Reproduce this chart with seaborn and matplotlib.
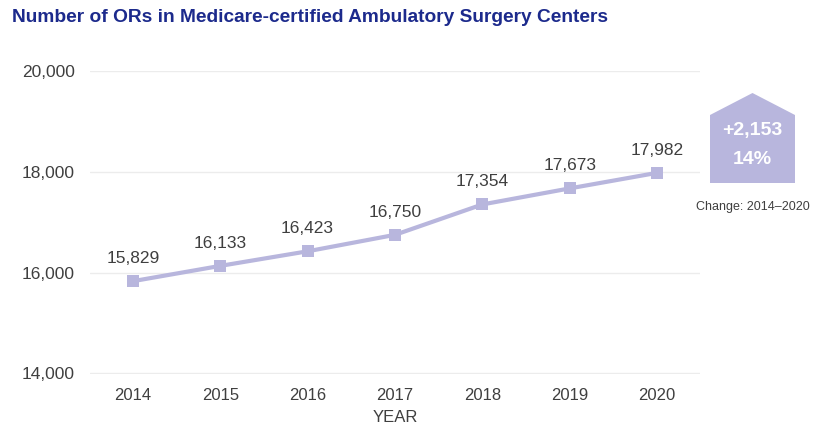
import matplotlib
matplotlib.use("Agg")
import matplotlib.pyplot as plt
import seaborn as sns
import pandas as pd
from matplotlib.patches import Polygon

years = ["2014", "2015", "2016", "2017", "2018", "2019", "2020"]
ors = [15829, 16133, 16423, 16750, 17354, 17673, 17982]
yticks = [14000, 16000, 18000, 20000]
change_abs = "+2,153"
change_pct = "14%"
change_label = "Change: 2014\u20132020"
title = "Number of ORs in Medicare-certified Ambulatory Surgery Centers"

sns.set_theme(style="white")
plt.rcParams['font.family'] = ['Liberation Sans', 'DejaVu Sans']

df = pd.DataFrame({"year": years, "ors": ors})
line_color = "#b8b6dd"
text_color = "#3f3f3f"

fig = plt.figure(figsize=(8.27, 4.25), dpi=100)
ax = fig.add_axes([90/827, 51/425, 610/827, 303/425])

sns.lineplot(data=df, x="year", y="ors", ax=ax, color=line_color, linewidth=3,
             marker="s", markersize=9, markeredgewidth=0, sort=False)

ax.set_ylim(13985, 20005)
ax.set_xlim(-0.49, 6.49)
ax.set_yticks(yticks)
ax.set_yticklabels([f"{v:,}" for v in yticks], color=text_color, fontsize=12.5)
ax.tick_params(axis="x", labelsize=12, colors=text_color, pad=10, length=0)
ax.tick_params(axis="y", pad=11, length=0)
for sp in ax.spines.values():
    sp.set_visible(False)
ax.grid(axis="y", color="#ececec", linewidth=1)
ax.grid(axis="x", visible=False)
ax.set_axisbelow(True)
ax.set_xlabel("YEAR", fontsize=12, color=text_color, labelpad=5)
ax.set_ylabel("")

for i, v in enumerate(ors):
    ax.annotate(f"{v:,}", (i, v), xytext=(0, 11), textcoords="offset points",
                ha="center", va="bottom", fontsize=12.5, color=text_color)

fig.text(12/827, 1 - 18/425, title, fontsize=13.8, fontweight="bold",
         color="#1c2a8c", ha="left", va="center")

# change callout (house shape)
px = [(710, 183), (795, 183), (795, 115), (752.5, 93), (710, 115)]
poly = Polygon([(x/827, 1 - y/425) for x, y in px], closed=True,
               transform=fig.transFigure, facecolor="#b8b6dd", edgecolor="none")
fig.patches.append(poly)
fig.text(752.5/827, 1 - 131/425, change_abs, fontsize=14, fontweight="bold",
         color="white", ha="center", va="center")
fig.text(752.5/827, 1 - 159/425, change_pct, fontsize=14, fontweight="bold",
         color="white", ha="center", va="center")
fig.text(752.5/827, 1 - 207/425, change_label, fontsize=9, color=text_color,
         ha="center", va="center")

fig.savefig("out.png", dpi=100)
